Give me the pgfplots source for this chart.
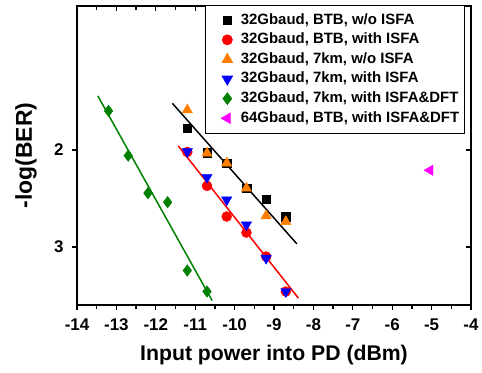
\documentclass[border=0pt]{standalone}
\usepackage{fontspec}
\setmainfont{Liberation Sans}
\usepackage{pgfplots}
\pgfplotsset{compat=1.18}
\definecolor{myorange}{RGB}{255,128,0}
\definecolor{mygreen}{RGB}{0,128,0}
\definecolor{mymag}{RGB}{255,0,255}
\newcommand{\tl}[1]{{\fontsize{17}{19}\selectfont\bfseries #1}}
\begin{document}
\begin{tikzpicture}
\pgfplotsset{
  common/.style={
    at={(0,0)}, anchor=south west, scale only axis,
    width=394bp, height=299bp,
    xmin=-14, xmax=-4, ymin=0.515, ymax=3.6, y dir=reverse,
    xtick={-14,-13,-12,-11,-10,-9,-8,-7,-6,-5,-4},
    ytick={2,3}, minor x tick num=1,
    axis line style={line width=1.5bp},
    major tick length=5bp, minor tick length=4bp,
    every tick/.style={black, line width=1.3bp},
  }
}
\begin{axis}[common,
  axis x line*=top, axis y line*=right, tick align=inside,
  xticklabels={,,,,,,,,,,}, yticklabels={,}]
\end{axis}
\begin{axis}[common,
  tick align=outside, xtick pos=bottom, ytick pos=left,
  xticklabels={\tl{-14},\tl{-13},\tl{-12},\tl{-11},\tl{-10},\tl{-9},\tl{-8},\tl{-7},\tl{-6},\tl{-5},\tl{-4}},
  yticklabels={\tl{2},\tl{3}},
  xticklabel style={yshift=-5.5bp},
  yticklabel style={xshift=-5bp},
  xlabel={Input power into PD (dBm)},
  ylabel={-log(BER)},
  xlabel style={at={(axis description cs:0.5,-0.1672)}, anchor=center, font=\fontsize{21.3}{24}\selectfont\bfseries},
  ylabel style={at={(axis description cs:-0.1294,0.5)}, anchor=center, font=\fontsize{23}{24}\selectfont\bfseries},
  legend style={at={(axis description cs:0.985,1.003)}, anchor=north east,
    draw=black, line width=0.8bp, font=\fontsize{15}{16}\selectfont\bfseries,
    row sep=3.1bp, inner xsep=4bp, inner ysep=6.5bp,
    nodes={inner sep=1.5bp, text height=10.5bp, text depth=3bp}},
  legend cell align=left,
  legend image code/.code={\path[draw=none,fill=none] (-18bp,0bp) -- (12bp,0bp); \draw[#1] plot coordinates {(0bp,0bp)};},
]
% fit lines
\addplot[black, line width=1.5bp, forget plot] coordinates {(-11.58,1.519) (-8.42,2.969)};
\addplot[red, line width=1.5bp, forget plot] coordinates {(-11.43,1.959) (-8.38,3.529)};
\addplot[mygreen, line width=1.5bp, forget plot] coordinates {(-13.47,1.443) (-10.57,3.554)};
% data
\addplot[only marks, mark=square*, mark size=4.3bp, black] coordinates {
(-11.2,1.776) (-10.7,2.028) (-10.2,2.137) (-9.7,2.395) (-9.2,2.508) (-8.7,2.687)};
\addlegendentry{32Gbaud, BTB, w/o ISFA}
\addplot[only marks, mark=*, mark size=5bp, red] coordinates {
(-11.2,2.021) (-10.7,2.371) (-10.2,2.687) (-9.7,2.853) (-9.2,3.10) (-8.7,3.461)};
\addlegendentry{32Gbaud, BTB, with ISFA}
\addplot[only marks, mark=triangle*, mark size=6bp, myorange] coordinates {
(-11.2,1.588) (-10.7,2.034) (-10.2,2.137) (-9.7,2.395) (-9.2,2.68) (-8.7,2.74)};
\addlegendentry{32Gbaud, 7km, w/o ISFA}
\addplot[only marks, mark=triangle*, mark size=6bp, blue, mark options={rotate=180}] coordinates {
(-11.2,2.017) (-10.7,2.282) (-10.2,2.515) (-9.7,2.773) (-9.2,3.117) (-8.7,3.461)};
\addlegendentry{32Gbaud, 7km, with ISFA}
\addplot[only marks, mark=diamond*, mark size=5.8bp, mygreen] coordinates {
(-13.2,1.598) (-12.7,2.059) (-12.2,2.446) (-11.7,2.539) (-11.2,3.244) (-10.7,3.461)};
\addlegendentry{32Gbaud, 7km, with ISFA\&DFT}
\addplot[only marks, mark=triangle*, mark size=6bp, mymag, mark options={rotate=90}] coordinates {
(-5.04,2.21)};
\addlegendentry{64Gbaud, BTB, with ISFA\&DFT}
\end{axis}
\pgfresetboundingbox
\path[use as bounding box] (-77bp,-68bp) rectangle (405bp,305bp);
\end{tikzpicture}
\end{document}
